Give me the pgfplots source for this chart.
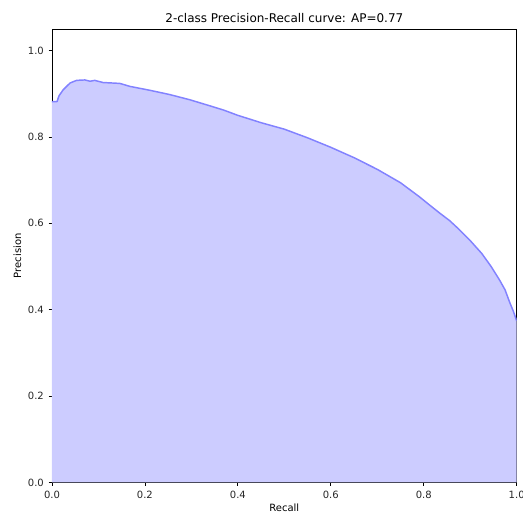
\documentclass[border=0pt]{standalone}
\usepackage{pgfplots}
\pgfplotsset{compat=1.18}
\usepackage{fontspec}
\setmainfont{DejaVu Sans}
\usetikzlibrary{calc}
\definecolor{fillc}{HTML}{CCCCFF}
\definecolor{linec}{RGB}{130,130,255}
\pgfplotstableread{
x y
0 0.882
0.011 0.882
0.015 0.895
0.024 0.909
0.039 0.925
0.053 0.931
0.071 0.932
0.082 0.929
0.092 0.931
0.110 0.926
0.146 0.924
0.168 0.917
0.211 0.908
0.254 0.898
0.297 0.886
0.340 0.872
0.370 0.862
0.400 0.850
0.450 0.833
0.500 0.818
0.550 0.798
0.600 0.776
0.650 0.752
0.700 0.725
0.750 0.694
0.790 0.662
0.813 0.642
0.834 0.624
0.856 0.606
0.875 0.587
0.900 0.560
0.925 0.530
0.945 0.500
0.963 0.469
0.975 0.446
0.985 0.417
0.993 0.396
1.000 0.374
}\prdata
\begin{document}
\begin{tikzpicture}
\begin{axis}[
  name=ax,
  scale only axis,
  width=348.75pt, height=340.3pt,
  xmin=0, xmax=1, ymin=0, ymax=1.05,
  xtick={0,0.2,0.4,0.6,0.8,1.0},
  ytick={0,0.2,0.4,0.6,0.8,1.0},
  tick align=outside,
  xtick pos=lower, ytick pos=left,
  major tick length=2.6pt,
  every tick/.style={black, line width=0.6pt},
  axis line style={black, line width=0.6pt},
  /pgf/number format/assume math mode=true,
  /pgf/number format/fixed,
  /pgf/number format/fixed zerofill,
  /pgf/number format/precision=1,
  ticklabel style={font=\fontsize{7.5pt}{9pt}\selectfont, color=black!85},
  every axis title shift=0pt,
  title={2-class Precision-Recall curve: AP=0.77},
  title style={at={(axis description cs:0.5,1)}, anchor=base, yshift=5pt, inner sep=0pt, font=\fontsize{9pt}{11pt}\selectfont},
  xlabel={Recall},
  ylabel={Precision},
  xlabel style={at={(axis description cs:0.5,0)}, anchor=center, yshift=-19pt, inner sep=0pt, font=\fontsize{7.5pt}{9pt}\selectfont},
  ylabel style={at={($(axis description cs:0,0.5)+(-26pt,0)$)}, anchor=center, rotate=0, inner sep=0pt, font=\fontsize{7.5pt}{9pt}\selectfont},
]
\addplot[fill=fillc, draw=none] table[x=x,y=y] {\prdata} \closedcycle;
\addplot[linec, line width=1.1pt, line join=round] table[x=x,y=y] {\prdata};
\end{axis}
\pgfresetboundingbox
\path ([xshift=-39pt,yshift=-23.5pt]ax.south west) rectangle ([xshift=4.75pt,yshift=21.75pt]ax.north east);
\end{tikzpicture}
\end{document}
